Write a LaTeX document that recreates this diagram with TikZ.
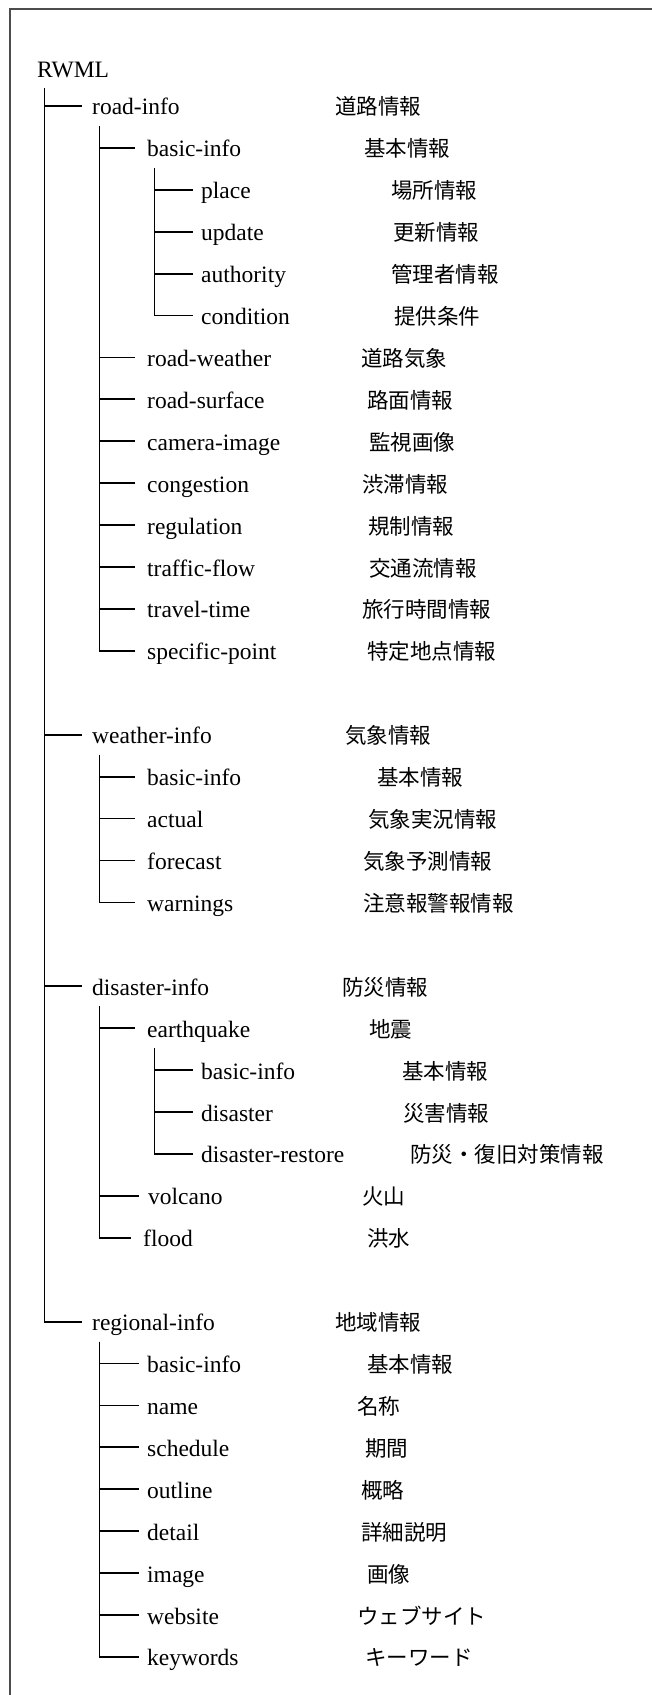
\documentclass[tikz,border=0pt]{standalone}
\usepackage{fontspec}
\setmainfont{Liberation Serif}
\newfontfamily\jpfont{Noto Sans CJK JP}
\newcommand\titem[6]{%
  \node[en] (#1) at (#2,{73+41.92*#3}) {#4};
  \node[jp] (#1-jp) at (#5,{73+41.92*#3}) {#6};}
\newcommand\tedge[3]{\draw[branch] ([shift={(7.5,9)}]#1.south west) |- ([xshift=-#3pt]#2.west);}
\begin{document}
\begin{tikzpicture}[x=1pt,y=-1pt,
  en/.style={anchor=base west,inner sep=0pt,text height=20pt,text depth=2pt,font=\fontsize{23.5}{26}\selectfont},
  jp/.style={anchor=base west,inner sep=0pt,font=\jpfont\fontsize{21.5}{24}\selectfont},
  branch/.style={line width=1.8pt,black},
  frame/.style={line width=1.2pt,black!70}]
\useasboundingbox (0,0) rectangle (651,1695);
\draw[frame] (10,1710) -- (10,9) -- (670,9);
\node[en] (rwml) at (37,77) {RWML};
% road-info
\titem{road}{92}{1}{road-info}{335}{道路情報}
\titem{rbasic}{147}{2}{basic-info}{364}{基本情報}
\titem{place}{201}{3}{place}{391}{場所情報}
\titem{update}{201}{4}{update}{393}{更新情報}
\titem{auth}{201}{5}{authority}{391}{管理者情報}
\titem{cond}{201}{6}{condition}{394}{提供条件}
\titem{rweather}{147}{7}{road-weather}{361}{道路気象}
\titem{rsurf}{147}{8}{road-surface}{367}{路面情報}
\titem{camera}{147}{9}{camera-image}{369}{監視画像}
\titem{cong}{147}{10}{congestion}{362}{渋滞情報}
\titem{reg}{147}{11}{regulation}{368}{規制情報}
\titem{traffic}{147}{12}{traffic-flow}{369}{交通流情報}
\titem{travel}{147}{13}{travel-time}{362}{旅行時間情報}
\titem{spec}{147}{14}{specific-point}{367}{特定地点情報}
% weather-info
\titem{weather}{92}{16}{weather-info}{345}{気象情報}
\titem{wbasic}{147}{17}{basic-info}{377}{基本情報}
\titem{actual}{147}{18}{actual}{368}{気象実況情報}
\titem{forecast}{147}{19}{forecast}{363}{気象予測情報}
\titem{warn}{147}{20}{warnings}{363}{注意報警報情報}
% disaster-info
\titem{disaster}{92}{22}{disaster-info}{342}{防災情報}
\titem{eq}{147}{23}{earthquake}{369}{地震}
\titem{ebasic}{201}{24}{basic-info}{402}{基本情報}
\titem{edis}{201}{25}{disaster}{403}{災害情報}
\titem{erest}{201}{26}{disaster-restore}{410}{防災・復旧対策情報}
\titem{volcano}{148}{27}{volcano}{362}{火山}
\titem{flood}{143}{28}{flood}{367}{洪水}
% regional-info
\titem{regional}{92}{30}{regional-info}{335}{地域情報}
\titem{gbasic}{147}{31}{basic-info}{367}{基本情報}
\titem{name}{147}{32}{name}{357}{名称}
\titem{sched}{147}{33}{schedule}{365}{期間}
\titem{outline}{147}{34}{outline}{361}{概略}
\titem{detail}{147}{35}{detail}{361}{詳細説明}
\titem{image}{147}{36}{image}{367}{画像}
\titem{web}{147}{37}{website}{357}{ウェブサイト}
\titem{kw}{147}{38}{keywords}{365}{キーワード}
% connectors
\tedge{rwml}{road}{10}
\tedge{rwml}{weather}{10}
\tedge{rwml}{disaster}{10}
\tedge{rwml}{regional}{10}
\foreach \c in {rbasic,rweather,rsurf,camera,cong,reg,traffic,travel,spec}{\tedge{road}{\c}{12}}
\foreach \c in {place,update,auth,cond}{\tedge{rbasic}{\c}{8}}
\foreach \c in {wbasic,actual,forecast,warn}{\tedge{weather}{\c}{12}}
\tedge{disaster}{eq}{12}
\tedge{disaster}{volcano}{9}
\tedge{disaster}{flood}{12}
\foreach \c in {ebasic,edis,erest}{\tedge{eq}{\c}{8}}
\foreach \c in {gbasic,name,sched,outline,detail,image,web,kw}{\tedge{regional}{\c}{8}}
\end{tikzpicture}
\end{document}
